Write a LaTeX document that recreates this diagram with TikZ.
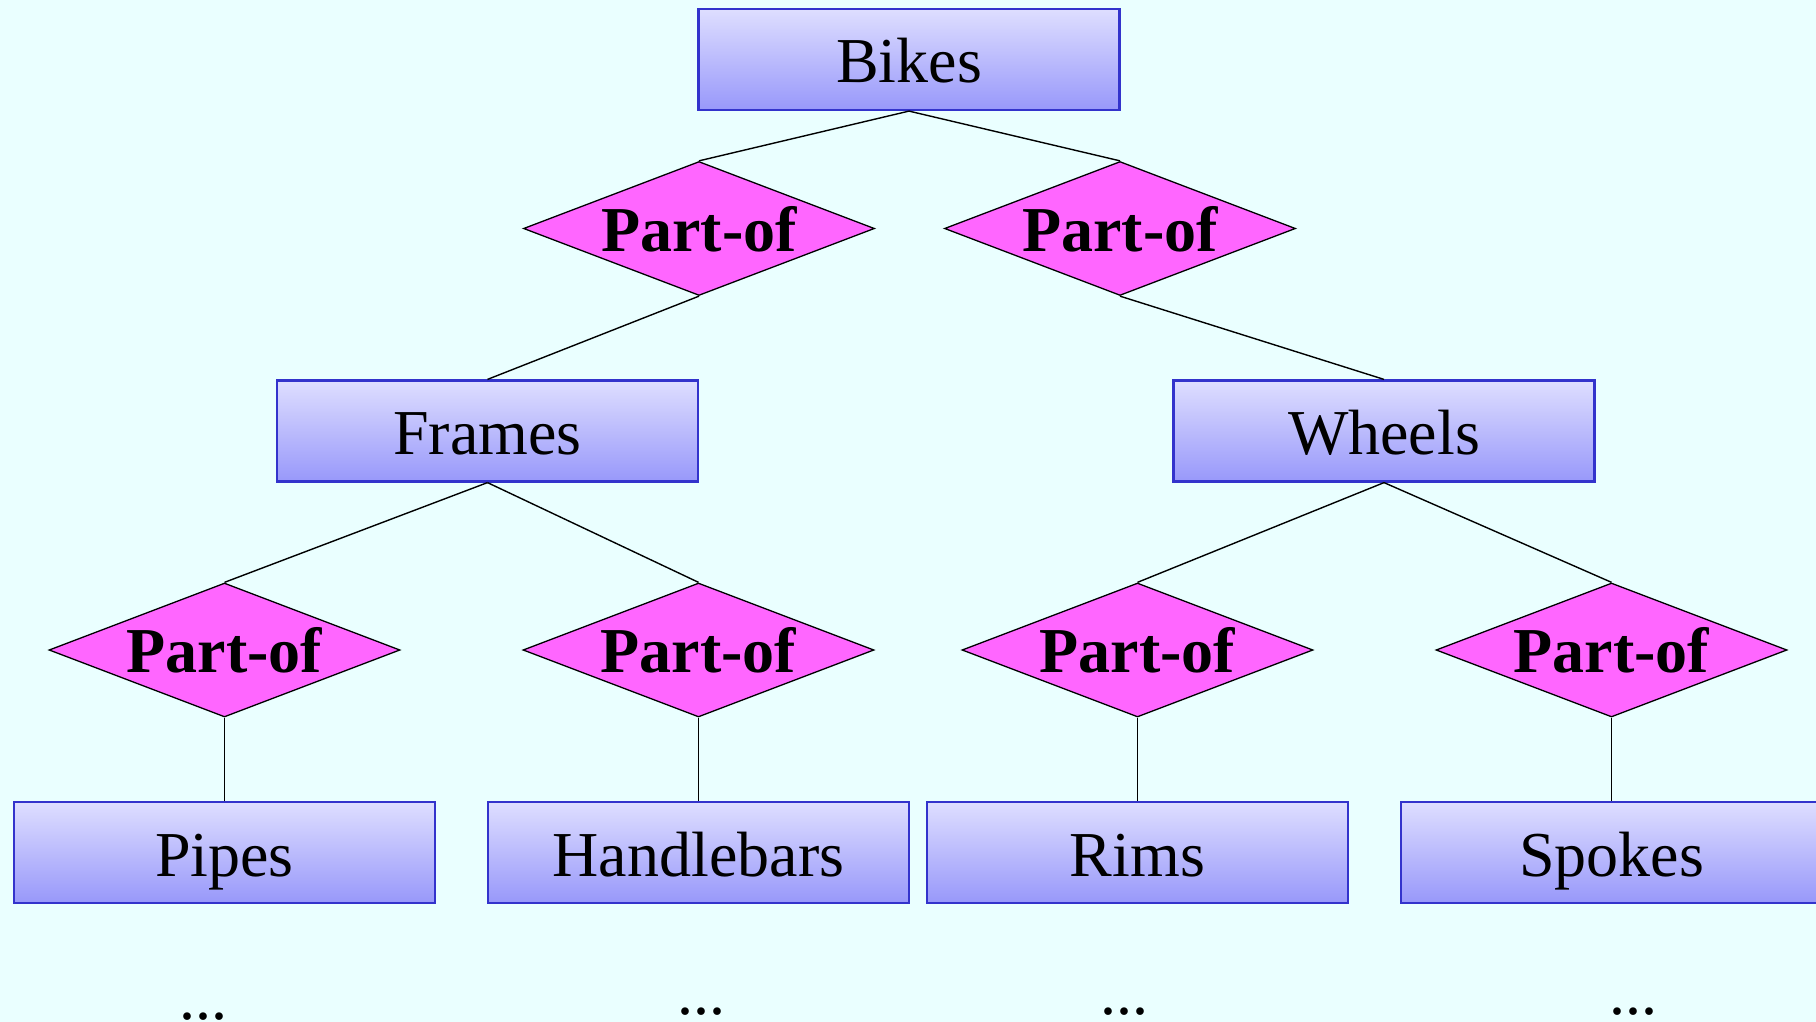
\documentclass[tikz,border=0pt]{standalone}
\usepackage{fontspec}
\setmainfont{Liberation Serif}
\usetikzlibrary{shapes.geometric}
\definecolor{bgc}{HTML}{EAFFFF}
\definecolor{boxtop}{HTML}{DEDEFF}
\definecolor{boxbot}{HTML}{9898FA}
\definecolor{boxline}{HTML}{3333CC}
\definecolor{relfill}{HTML}{FF66FF}
\tikzset{
  entity/.style={rectangle, draw=boxline, line width=2.2pt, top color=boxtop, bottom color=boxbot,
    minimum width=421pt, minimum height=101pt, inner sep=0pt,
    text height=60pt, text depth=13pt, font=\fontsize{64}{70}\selectfont},
  rel/.style={diamond, draw=black, line width=1.3pt, fill=relfill,
    minimum width=351pt, minimum height=134pt, inner sep=0pt},
  reltext/.style={inner sep=0pt, text height=55pt, text depth=10pt,
    font=\fontsize{64}{70}\selectfont\bfseries},
  conn/.style={draw=black, line width=1.4pt},
  dots/.style={inner sep=0pt, anchor=base, font=\fontsize{64}{70}\selectfont}
}
\begin{document}
\begin{tikzpicture}[x=1pt,y=-1pt]
\fill[bgc] (0,0) rectangle (1816,1022);
\useasboundingbox (0,0) rectangle (1816,1022);
% entities
\node[entity] (bikes) at (909,59.5) {Bikes};
\node[entity] (frames) at (487.5,431) {Frames};
\node[entity] (wheels) at (1384,431) {Wheels};
\node[entity] (pipes) at (224.5,852.5) {Pipes};
\node[entity] (handle) at (698.5,852.5) {Handlebars};
\node[entity] (rims) at (1137.5,852.5) {Rims};
\node[entity] (spokes) at (1611.5,852.5) {Spokes};
% relationships
\node[rel] (r1) at (699,228.5) {};
\node[rel] (r2) at (1120,228.5) {};
\node[rel] (r3) at (224.5,650) {};
\node[rel] (r4) at (698.5,650) {};
\node[rel] (r5) at (1137.5,650) {};
\node[rel] (r6) at (1611.5,650) {};
\foreach \r in {r1,r2,r3,r4,r5,r6}{
  \node[reltext] (\r t) at (\r.center) {Part-of};
}
% connectors
\draw[conn] (bikes.south) -- (r1.north);
\draw[conn] (bikes.south) -- (r2.north);
\draw[conn] (r1.south) -- (frames.north);
\draw[conn] (r2.south) -- (wheels.north);
\draw[conn] (frames.south) -- (r3.north);
\draw[conn] (frames.south) -- (r4.north);
\draw[conn] (wheels.south) -- (r5.north);
\draw[conn] (wheels.south) -- (r6.north);
\draw[conn] (r3.south) -- (pipes.north);
\draw[conn] (r4.south) -- (handle.north);
\draw[conn] (r5.south) -- (rims.north);
\draw[conn] (r6.south) -- (spokes.north);
% dots
\node[dots] (d1) at (203,1019) {...};
\node[dots] (d2) at (701,1014) {...};
\node[dots] (d3) at (1124,1014) {...};
\node[dots] (d4) at (1633,1014) {...};
\end{tikzpicture}
\end{document}
